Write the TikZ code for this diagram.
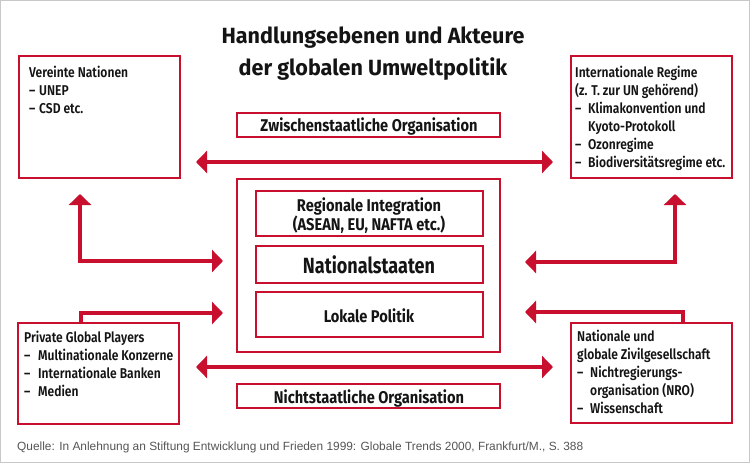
\documentclass[tikz,border=0pt]{standalone}
\usepackage{fontspec}
\setmainfont{Fira Sans}[FakeStretch=0.82]
\newfontfamily\medfont{Fira Sans SemiBold}[FakeStretch=0.85]
\newfontfamily\midfont{Fira Sans Bold}[FakeStretch=0.86]
\newfontfamily\titlefont{Fira Sans Bold}[FakeStretch=0.98]
\newfontfamily\srcfont{Liberation Sans}
\usetikzlibrary{arrows.meta}
\definecolor{dinred}{RGB}{200,16,46}
\definecolor{framegray}{RGB}{200,200,200}
\definecolor{srcgray}{RGB}{85,85,85}
\definecolor{txtblack}{RGB}{20,20,20}
\newcommand\dl[1]{\makebox[#1][l]{–}}
\begin{document}
\begin{tikzpicture}[x=1pt,y=-1pt,
  redbox/.style={draw=dinred, line width=2.2pt, inner sep=0pt, outer sep=0pt, anchor=north west},
  conn/.style={draw=dinred, line width=4.2pt, -{Triangle[length=11pt,width=22pt]}},
  conntwo/.style={draw=dinred, line width=4.2pt, {Triangle[length=11pt,width=22pt]}-{Triangle[length=11pt,width=22pt]}},
  boxtext/.style={anchor=base west, inner sep=0pt, text=txtblack, font=\medfont\fontsize{14.2}{18}\selectfont},
  midtext/.style={anchor=base, inner sep=0pt, text=txtblack, font=\midfont\fontsize{17}{19}\selectfont},
  bigtext/.style={anchor=base, inner sep=0pt, text=txtblack, font=\bfseries\fontsize{22}{26}\selectfont},
  titletext/.style={anchor=base, inner sep=0pt, text=txtblack, font=\titlefont\fontsize{22}{26}\selectfont}
]
\useasboundingbox (0,0) rectangle (750,463);
\draw[framegray, line width=1pt] (0.5,0.5) rectangle (749.5,462.5);

% title
\node[titletext] (t1) at (373,43) {Handlungsebenen und Akteure};
\node[titletext] (t2) at (373,75) {der globalen Umweltpolitik};

% outer boxes
\node[redbox, minimum width=161pt, minimum height=122pt] (un) at (19,56) {};
\node[redbox, minimum width=161pt, minimum height=122pt] (ir) at (571,56) {};
\node[redbox, minimum width=161pt, minimum height=101pt] (pgp) at (18,323) {};
\node[redbox, minimum width=161pt, minimum height=100pt] (nz) at (571,323) {};

% central boxes
\node[redbox, minimum width=263pt, minimum height=24pt] (zo) at (237,113) {};
\node[redbox, minimum width=263pt, minimum height=173pt] (ctr) at (237,179) {};
\node[redbox, minimum width=227pt, minimum height=45pt] (ri) at (256,191) {};
\node[redbox, minimum width=227pt, minimum height=37pt] (ns) at (256,246) {};
\node[redbox, minimum width=227pt, minimum height=45pt] (lp) at (256,292) {};
\node[redbox, minimum width=263pt, minimum height=24pt] (no) at (237,384) {};

% central texts
\node[midtext] (zot) at (369,131) {Zwischenstaatliche Organisation};
\node[midtext] (rit1) at (369,211) {Regionale Integration};
\node[midtext] (rit2) at (369,230) {(ASEAN, EU, NAFTA etc.)};
\node[bigtext] (nst) at (369,273) {Nationalstaaten};
\node[midtext] (lpt) at (369,322) {Lokale Politik};
\node[midtext] (not) at (369,403) {Nichtstaatliche Organisation};

% box texts
\node[boxtext] (unt) at (29,77) {\begin{tabular}[t]{@{}l@{}}
Vereinte Nationen\\
\dl{10pt}UNEP\\
\dl{10pt}CSD etc.
\end{tabular}};
\node[boxtext] (irt) at (575,77) {\begin{tabular}[t]{@{}l@{}}
Internationale Regime\\
(z. T. zur UN gehörend)\\
\dl{13pt}Klimakonvention und\\
\hspace*{13pt}Kyoto-Protokoll\\
\dl{13pt}Ozonregime\\
\dl{13pt}Biodiversitätsregime etc.
\end{tabular}};
\node[boxtext] (pgpt) at (24,342) {\begin{tabular}[t]{@{}l@{}}
Private Global Players\\
\dl{14pt}Multinationale Konzerne\\
\dl{14pt}Internationale Banken\\
\dl{14pt}Medien
\end{tabular}};
\node[boxtext] (nzt) at (577,341) {\begin{tabular}[t]{@{}l@{}}
Nationale und\\
globale Zivilgesellschaft\\
\dl{13pt}Nichtregierungs-\\
\hspace*{13pt}organisation (NRO)\\
\dl{13pt}Wissenschaft
\end{tabular}};

% arrow coordinates
\coordinate (upl) at (196,162);
\coordinate (upr) at (553,162);
\coordinate (lol) at (196,367);
\coordinate (lor) at (553,367);
\coordinate (lup) at (80,194);
\coordinate (lrt) at (223,261);
\coordinate (rup) at (675,194);
\coordinate (rlt) at (525,262);
\coordinate (pgs) at (81,323);
\coordinate (pge) at (223,313);
\coordinate (nzs) at (683,323);
\coordinate (nze) at (525,312);

\draw[conntwo] (upl) -- (upr);
\draw[conntwo] (lol) -- (lor);
\draw[conntwo] (lup) |- (lrt);
\draw[conntwo] (rup) |- (rlt);
\draw[conn] (pgs) |- (pge);
\draw[conn] (nzs) |- (nze);

% source
\node[anchor=base west, inner sep=0pt, text=srcgray, font=\srcfont\fontsize{11.9}{14}\selectfont] (src) at (17,450)
 {Quelle: In Anlehnung an Stiftung Entwicklung und Frieden 1999: Globale Trends 2000, Frankfurt/M., S. 388};
\end{tikzpicture}
\end{document}
